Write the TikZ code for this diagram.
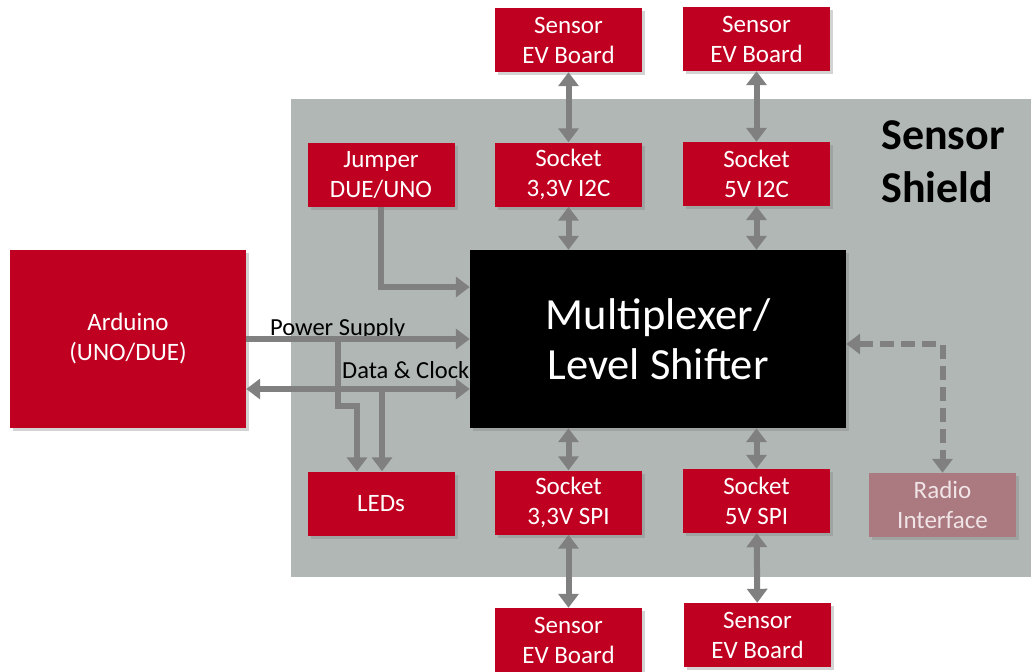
\documentclass[tikz,border=0pt]{standalone}
\usepackage{fontspec}
\setmainfont{Carlito}
\usetikzlibrary{arrows.meta}
\usetikzlibrary{positioning}
\usetikzlibrary{shadows}

\definecolor{boxred}{RGB}{192,0,32}
\definecolor{shieldgray}{RGB}{176,183,180}
\definecolor{linkgray}{RGB}{128,128,128}
\definecolor{radiored}{RGB}{170,122,128}
\definecolor{radiotext}{RGB}{240,228,230}

\begin{document}
\begin{tikzpicture}[x=1pt,y=-1pt,
    box/.style={fill=boxred,text=white,align=center,inner sep=0pt,
      minimum width=147pt,minimum height=64pt,
      font=\fontsize{25}{30}\selectfont,
      drop shadow={opacity=0.35,shadow xshift=3pt,shadow yshift=-3pt}},
    link/.style={draw=linkgray,line width=6pt,
      arrows={-Triangle[width=20pt,length=14pt]}},
    twolink/.style={link,arrows={Triangle[width=20pt,length=14pt]-Triangle[width=20pt,length=14pt]}},
    lbl/.style={font=\fontsize{24.5}{28}\selectfont,inner sep=0pt}]
  \useasboundingbox (0,0) rectangle (1031,672);

  % shield board
  \fill[shieldgray] (291,99) rectangle (1031,577);
  \node[font=\fontsize{44}{53}\selectfont\bfseries,align=left,anchor=north west,
    inner sep=0pt] (title) at (881,120) {Sensor\\Shield};

  % boxes
  \node[box,minimum width=236pt,minimum height=178pt] (ard) at (128,339) {Arduino\\(UNO/DUE)};
  \node[box,fill=black,minimum width=376pt,minimum height=178pt,
    font=\fontsize{44.5}{50}\selectfont] (mux) at (658,339) {Multiplexer/\\Level Shifter};

  \node[box] (jmp)  at (381,175)   {Jumper\\DUE/UNO};
  \node[box] (s33i) at (568.5,174.5) {Socket\\3,3V I2C};
  \node[box] (s5i)  at (756.5,174) {Socket\\5V I2C};
  \node[box] (evA)  at (568.5,40)  {Sensor\\EV Board};
  \node[box] (evB)  at (756.5,39)  {Sensor\\EV Board};

  \node[box] (led)  at (381,503.5) {LEDs};
  \node[box] (s33s) at (568.5,502.5) {Socket\\3,3V SPI};
  \node[box] (s5s)  at (756.5,501) {Socket\\5V SPI};
  \node[box] (evC)  at (568.5,640) {Sensor\\EV Board};
  \node[box] (evD)  at (757.5,635) {Sensor\\EV Board};
  \node[box,fill=radiored,text=radiotext] (radio) at (942.5,505) {Radio\\Interface};

  % sensor links
  \draw[twolink] (evA) -- (s33i);
  \draw[twolink] (s33i) -- (s33i |- mux.north);
  \draw[twolink] (evB) -- (s5i);
  \draw[twolink] (s5i) -- (s5i |- mux.north);
  \draw[twolink] (s33s |- mux.south) -- (s33s);
  \draw[twolink] (s33s) -- (evC);
  \draw[twolink] (s5s |- mux.south) -- (s5s);
  \draw[twolink] (s5s) -- (evD);

  % jumper
  \draw[link] (jmp.south) |- (mux.west |- 0,287);

  % arduino links
  \node[lbl,anchor=base west] (pwrlbl) at (270,335) {Power Supply};
  \node[lbl,anchor=base west] (datlbl) at (342,378) {Data \& Clock};
  \draw[link] (ard.east) -- (mux.west);
  \draw[twolink] (ard.east |- 0,389) -- (mux.west |- 0,389);
  \coordinate (pwrTap) at (338,339);
  \coordinate (datTap) at (382,389);
  \draw[link] (pwrTap) -- (338,406) -| ([xshift=-24pt]led.north);
  \draw[link] (datTap) -- (datTap |- led.north);

  % radio
  \draw[twolink,dash pattern=on 14pt off 7pt] (mux.east |- 0,344) -| (radio.north);
\end{tikzpicture}
\end{document}
